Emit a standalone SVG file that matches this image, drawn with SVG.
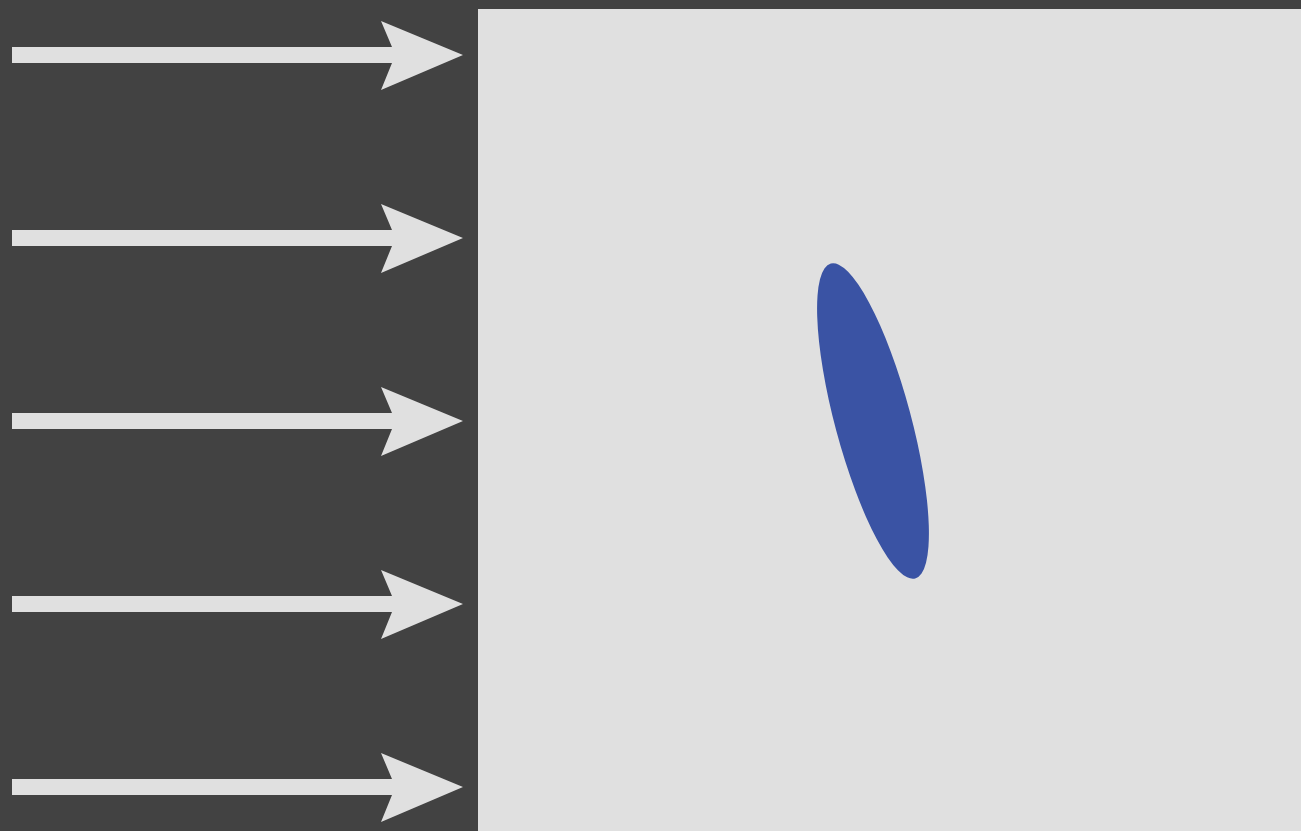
<svg xmlns="http://www.w3.org/2000/svg" xmlns:xlink="http://www.w3.org/1999/xlink" width="1301" height="831" viewBox="0 0 1301 831">
  <style>
    .bg { fill: #424242; }
    .panel { fill: #e0e0e0; }
    .arrow { fill: #e0e0e0; }
    .body { fill: #3a53a4; }
  </style>
  <defs>
    <path id="flowArrow" class="arrow" d="M12,47 H392 L381,21 L463,55 L381,90 L392,63 H12 Z"/>
  </defs>
  <rect class="bg" x="0" y="0" width="1301" height="831"/>
  <g id="domain">
    <rect class="panel" x="478" y="9" width="823" height="822"/>
  </g>
  <g id="connectors">
    <use xlink:href="#flowArrow" href="#flowArrow" transform="translate(0,0)"/>
    <use xlink:href="#flowArrow" href="#flowArrow" transform="translate(0,183)"/>
    <use xlink:href="#flowArrow" href="#flowArrow" transform="translate(0,366)"/>
    <use xlink:href="#flowArrow" href="#flowArrow" transform="translate(0,549)"/>
    <use xlink:href="#flowArrow" href="#flowArrow" transform="translate(0,732)"/>
  </g>
  <g id="ellipse-body">
    <ellipse class="body" cx="873" cy="421" rx="38" ry="163" transform="rotate(-15 873 421)"/>
  </g>
</svg>
